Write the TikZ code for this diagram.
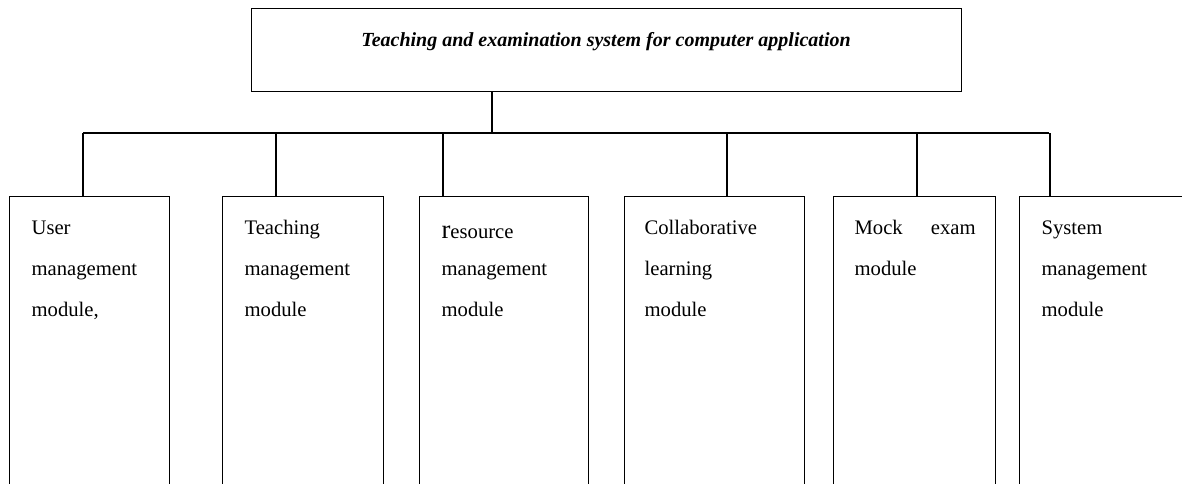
\documentclass[tikz,border=0pt]{standalone}
\usepackage{fontspec}
\setmainfont{Liberation Serif}
\begin{document}
\begin{tikzpicture}[x=0.75pt,y=-0.75pt,line width=0.9pt,
  modbox/.style={draw,rectangle,inner sep=0pt,anchor=north west,minimum height=228pt},
  modtext/.style={anchor=base west,inner sep=0pt,text width=#1,align=left,
    font=\fontsize{15.5}{31}\selectfont},
  modtext/.default=100pt,
  topbox/.style={draw,rectangle,inner sep=0pt,anchor=north west,minimum width=532.5pt,minimum height=62.25pt},
  titletext/.style={anchor=base,inner sep=0pt,font=\fontsize{15}{18}\selectfont\bfseries\itshape}
]
\useasboundingbox (0,0) rectangle (1182,483);
\clip (0,0) rectangle (1182,483);

% top box
\node[topbox] (top) at (251,8) {};
\node[titletext] (title) at (606,46) {Teaching and examination system for computer application};

% module boxes
\node[modbox,minimum width=120pt]    (m1) at (9,196) {};
\node[modbox,minimum width=120.75pt] (m2) at (222,196) {};
\node[modbox,minimum width=126.75pt] (m3) at (419,196) {};
\node[modbox,minimum width=135pt]    (m4) at (624,196) {};
\node[modbox,minimum width=121.5pt]  (m5) at (833,196) {};
\node[modbox,minimum width=135.75pt] (m6) at (1019,196) {};

% texts
\node[modtext] (t1) at (31,234) {User\\management\\module,};
\node[modtext] (t2) at (244,234) {Teaching\\management\\module};
\node[modtext] (t3) at (441,234) {\raisebox{-3pt}{{\fontsize{20}{20}\selectfont r}esource}\\management\\module};
\node[modtext] (t4) at (644,234) {Collaborative\\learning\\module};
\node[modtext=90.75pt] (t5) at (854,234) {Mock\hfill exam\\module};
\node[modtext] (t6) at (1041,234) {System\\management\\module};

% connectors
\coordinate (j)  at (492,133);
\coordinate (bl) at (83,133);
\coordinate (br) at (1049,133);
\coordinate (d1) at (83,133);
\coordinate (d2) at (276,133);
\coordinate (d3) at (443,133);
\coordinate (d4) at (727,133);
\coordinate (d5) at (917,133);
\coordinate (d6) at (1050,133);

\draw (j |- top.south) -- (j);
\draw (bl) -- (br);
\draw (d1) -- (d1 |- m1.north);
\draw (d2) -- (d2 |- m2.north);
\draw (d3) -- (d3 |- m3.north);
\draw (d4) -- (d4 |- m4.north);
\draw (d5) -- (d5 |- m5.north);
\draw (d6) -- (d6 |- m6.north);
\end{tikzpicture}
\end{document}
